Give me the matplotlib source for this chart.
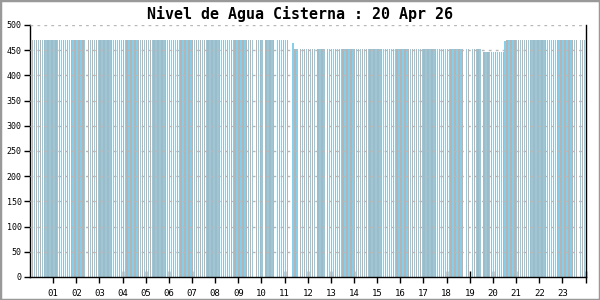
import matplotlib
matplotlib.use("Agg")
import matplotlib.pyplot as plt
from matplotlib.patches import Rectangle

# 5-minute samples over one day (slot index = minutes / 5)
SLOTS_PER_HOUR = 12
N_SLOTS = 288
missing_slots = [29, 116, 121, 127, 134, 135, 139, 148, 153, 225, 228, 234, 284]

# level runs: (first slot, last slot, level)
run_start = [0, 136, 137, 235, 246, 247]
run_end = [135, 136, 234, 245, 246, 287]
run_level = [470, 464, 452, 446, 468, 470]

hour_labels = ["%02d" % h for h in range(1, 24)]
y_ticks = list(range(0, 501, 50))
title = "Nivel de Agua Cisterna : 20 Apr 26"

BLUE = "#87ceeb"
GRAY = "#b4b4b4"

times, levels = [], []
for s0, s1, lv in zip(run_start, run_end, run_level):
    for s in range(s0, s1 + 1):
        if s in missing_slots:
            continue
        times.append(s / SLOTS_PER_HOUR)
        levels.append(lv)

colors = [BLUE if i % 2 == 0 else GRAY for i in range(len(times))]

fig = plt.figure(figsize=(6, 3), dpi=100)
ax = fig.add_axes([30 / 600, 1 - 277 / 300, 555.5 / 600, 252 / 300])

ax.bar(times, levels, width=0.062, align="edge", color=colors,
       linewidth=0, antialiased=False, zorder=2)

ax.set_xlim(0, 24)
ax.set_ylim(0, 500)
ax.set_yticks(y_ticks)
ax.set_yticklabels([str(v) for v in y_ticks], family="DejaVu Sans Mono", fontsize=6)
ax.set_xticks(range(1, 25))
ax.set_xticklabels(hour_labels + [""], family="DejaVu Sans Mono", fontsize=6.5)
ax.tick_params(axis="x", direction="inout", length=8, width=1, pad=5)
ax.tick_params(axis="y", direction="out", length=4, width=1, pad=2)

for v in y_ticks[1:]:
    ax.axhline(v, color="#b8b8b8", linewidth=1, linestyle=(0, (2, 3)), zorder=3)

ax.spines["top"].set_visible(False)
ax.spines["bottom"].set_linestyle((0, (1, 1)))
for side in ("left", "right", "bottom"):
    ax.spines[side].set_linewidth(1)
    ax.spines[side].set_color("black")

fig.text(0.5, 1 - 14 / 300, title, ha="center", va="center",
         family="DejaVu Sans Mono", fontweight="bold", fontsize=10.8)

fig.patches.append(Rectangle((0, 0), 1, 1, transform=fig.transFigure,
                             fill=False, edgecolor="#999999", linewidth=2.5))

fig.savefig("out.png", dpi=100)
